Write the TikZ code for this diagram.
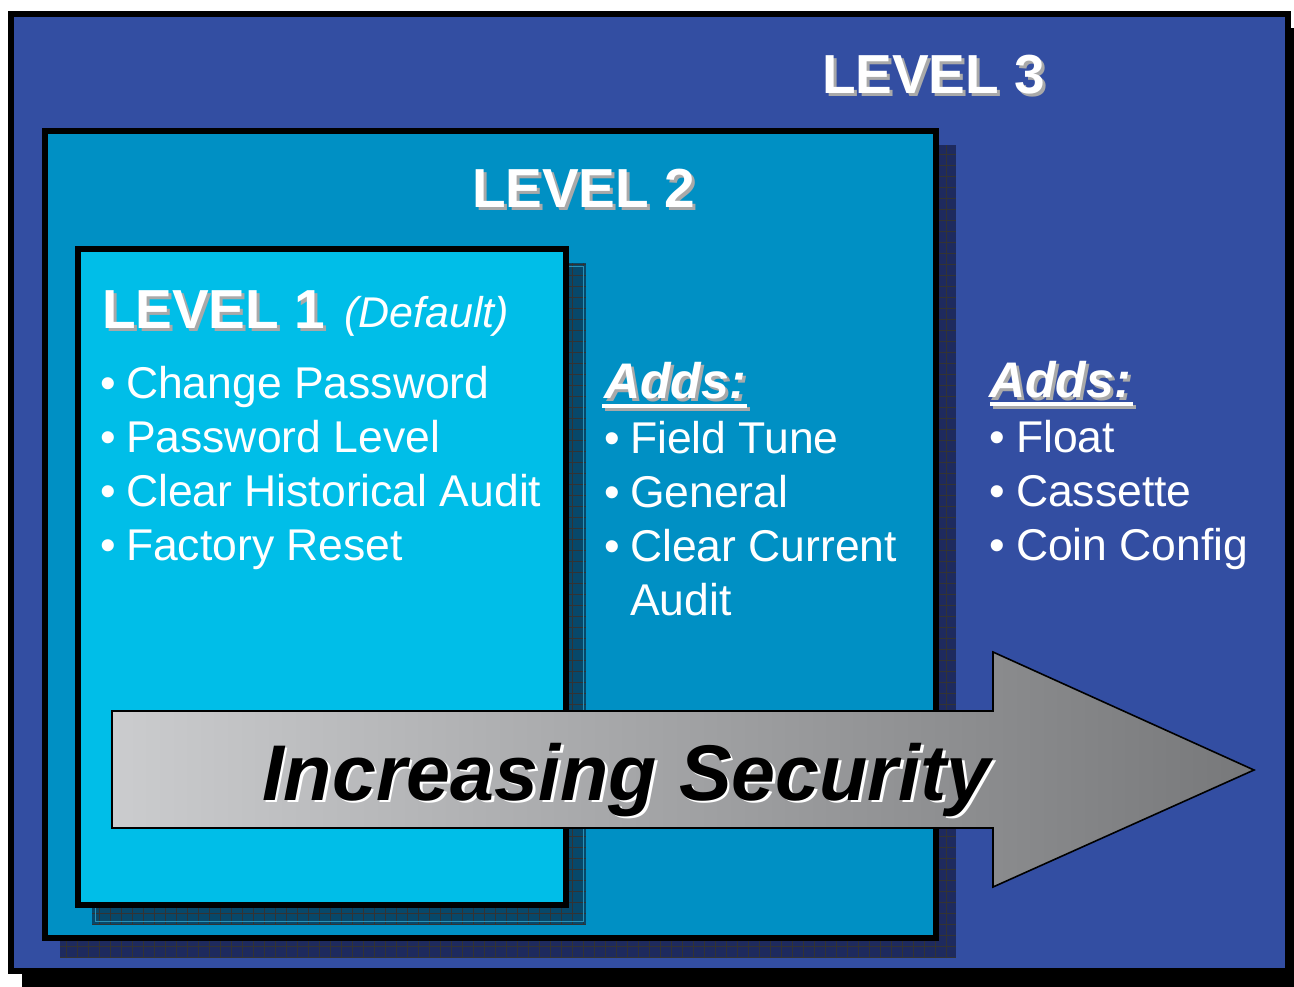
\documentclass[tikz,border=0pt]{standalone}
\usepackage{fontspec}
\setmainfont{Liberation Sans}
\definecolor{lvthree}{HTML}{334EA2}
\definecolor{lvtwo}{HTML}{0090C4}
\definecolor{lvone}{HTML}{00BEE8}
\definecolor{shdark}{HTML}{1E2A5E}
\definecolor{shteal}{HTML}{07486A}
\definecolor{shline}{HTML}{2A90B4}
\definecolor{tshadow}{HTML}{A9A9A9}
\definecolor{arrowlight}{HTML}{CBCCCE}
\definecolor{arrowdark}{HTML}{77787A}
\newcommand\lvTitleFont{\fontsize{55}{60}\selectfont\bfseries}
\newcommand\lvItemFont{\fontsize{44.5}{50}\selectfont}
\newcommand\lvDefFont{\fontsize{43}{48}\selectfont\itshape}
\newcommand\lvAddsFont{\fontsize{50}{54}\selectfont\bfseries\itshape}
\newcommand\lvArrowFont{\fontsize{79}{82}\selectfont\bfseries\itshape}
\begin{document}
\begin{tikzpicture}[x=1pt,y=-1pt,
  txt/.style={inner sep=0pt, outer sep=0pt, anchor=base west},
  title/.style={txt, text=white, font=\lvTitleFont},
  titleshadow/.style={txt, text=tshadow, font=\lvTitleFont},
  item/.style={txt, text=white, font=\lvItemFont},
  adds/.style={txt, text=white, font=\lvAddsFont},
  addsshadow/.style={txt, text=tshadow, font=\lvAddsFont},
  box/.style={line width=6pt, draw=black},
  gridlines/.style={draw=black!80, line width=0.7pt, step=11pt}]
\useasboundingbox (0,0) rectangle (1294,986);
\fill[white] (0,0) rectangle (1294,986);
% outer frame shadow and level 3 box
\fill[black] (22,28) rectangle (1300,992);
\path[box, fill=lvthree] (11,14) rectangle (1288,971);
% level 2 shadow
\begin{scope}
  \clip (60,145) rectangle (956,958);
  \fill[shdark] (60,145) rectangle (956,958);
  \draw[gridlines] (60,145) grid (956,958);
\end{scope}
\path[box, fill=lvtwo] (45,131) rectangle (935.5,938);
% level 1 shadow
\begin{scope}
  \clip (92,263) rectangle (586,924);
  \fill[shteal] (92,263) rectangle (586,924);
  \draw[gridlines] (92,263) grid (586,924);
  \draw[shline, line width=0.8pt] (95,266) rectangle (583,921);
\end{scope}
\path[box, fill=lvone] (78,249) rectangle (566,905);
% level titles
\node[titleshadow] at (825,96) {LEVEL 3};
\node[title] (l3) at (822,93) {LEVEL 3};
\node[titleshadow] at (475,210) {LEVEL 2};
\node[title] (l2) at (472,207) {LEVEL 2};
\node[titleshadow] at (105,331) {LEVEL 1};
\node[title] (l1) at (102,328) {LEVEL 1};
\node[item, font=\lvDefFont] (def) at (344,327) {(Default)};
% level 1 items
\foreach \t [count=\i] in {Change Password, Password Level, Clear Historical Audit, Factory Reset}{
  \node[item] (b1\i) at (100,344+54*\i) {\textbullet};
  \node[item] (i1\i) at (126,344+54*\i) {\t};
}
% level 2 adds
\draw[tshadow, line width=4pt] (605,409) -- (750,409);
\draw[white, line width=4pt] (602,406) -- (747,406);
\node[addsshadow] at (607,401) {Adds:};
\node[adds] (a2) at (604,398) {Adds:};
\foreach \t [count=\i] in {Field Tune, General, Clear Current}{
  \node[item] (b2\i) at (604,399+54*\i) {\textbullet};
  \node[item] (i2\i) at (630,399+54*\i) {\t};
}
\node[item] (i24) at (630,615) {Audit};
% level 3 adds
\draw[tshadow, line width=4pt] (993,407) -- (1136,407);
\draw[white, line width=4pt] (990,404) -- (1133,404);
\node[addsshadow] at (992,400) {Adds:};
\node[adds] (a3) at (989,397) {Adds:};
\foreach \t [count=\i] in {Float, Cassette, Coin Config}{
  \node[item] (b3\i) at (989,398+54*\i) {\textbullet};
  \node[item] (i3\i) at (1016,398+54*\i) {\t};
}
% arrow
\path[draw=black, line width=1.6pt, left color=arrowlight, right color=arrowdark, line join=miter]
  (112,711) -- (993,711) -- (993,652) -- (1254,770) -- (993,887) -- (993,828) -- (112,828) -- cycle;
\node[txt, text=white, font=\lvArrowFont] at (264.5,802.5) {Increasing Security};
\node[txt, text=black, font=\lvArrowFont] (sec) at (262,800) {Increasing Security};
\end{tikzpicture}
\end{document}
